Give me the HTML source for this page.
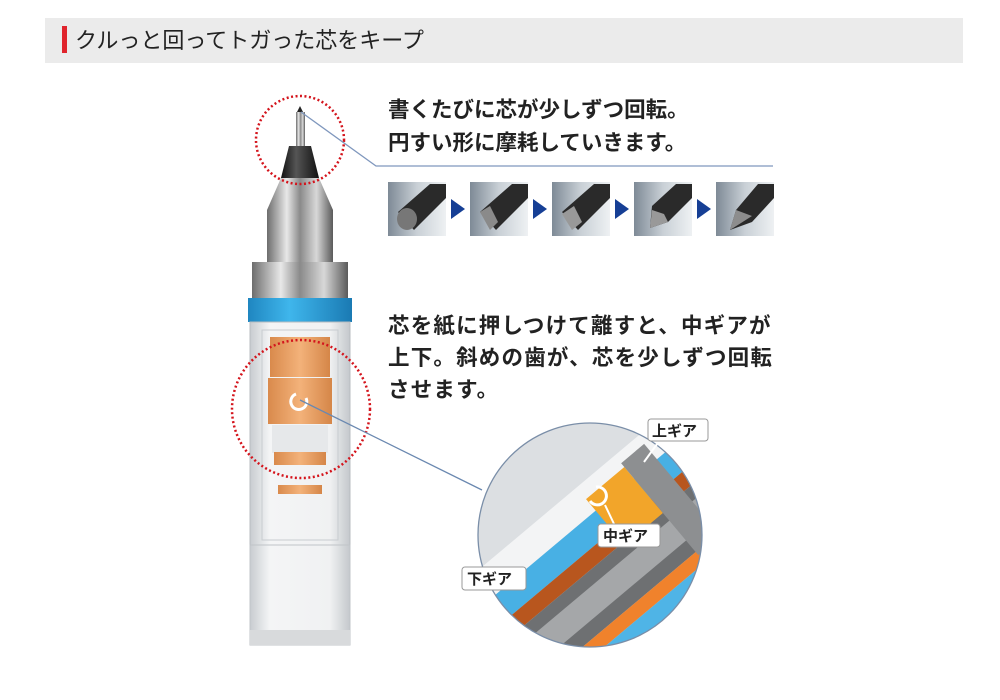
<!DOCTYPE html>
<html><head><meta charset="utf-8"><style>
html,body{margin:0;padding:0;background:#fff;width:1000px;height:700px;overflow:hidden}
svg{display:block;position:absolute;left:0;top:0}
text{font-family:"Liberation Sans","Noto Sans CJK JP",sans-serif}
</style></head><body>
<svg width="1000" height="700" viewBox="0 0 1000 700" xmlns="http://www.w3.org/2000/svg">
<defs>
<linearGradient id="metal" x1="0" x2="1">
<stop offset="0" stop-color="#6d6d6d"/><stop offset="0.3" stop-color="#e8e8e8"/><stop offset="0.5" stop-color="#8a8a8a"/><stop offset="0.75" stop-color="#d8d8d8"/><stop offset="1" stop-color="#5a5a5a"/></linearGradient>
<linearGradient id="blk" x1="0" x2="1"><stop offset="0" stop-color="#111"/><stop offset="0.4" stop-color="#555"/><stop offset="1" stop-color="#111"/></linearGradient>
<linearGradient id="blue" x1="0" x2="1"><stop offset="0" stop-color="#1f86c0"/><stop offset="0.4" stop-color="#3fb6ec"/><stop offset="1" stop-color="#1a7ab3"/></linearGradient>
<linearGradient id="clear" x1="0" x2="1"><stop offset="0" stop-color="#c8ccd0"/><stop offset="0.2" stop-color="#f4f5f6"/><stop offset="0.8" stop-color="#f0f1f2"/><stop offset="1" stop-color="#c4c8cc"/></linearGradient>
<linearGradient id="org" x1="0" x2="1"><stop offset="0" stop-color="#d98a4c"/><stop offset="0.5" stop-color="#f3b27a"/><stop offset="1" stop-color="#d58648"/></linearGradient>
<linearGradient id="box" x1="0" x2="1"><stop offset="0" stop-color="#7e8a96"/><stop offset="0.5" stop-color="#c9d0d6"/><stop offset="1" stop-color="#eef1f3"/></linearGradient>
<clipPath id="cc"><circle cx="590" cy="535" r="112"/></clipPath>
</defs>
<rect x="45" y="18" width="918" height="45" fill="#ebebeb"/>
<rect x="62" y="26" width="5" height="27" fill="#e0242c"/>
<text x="75" y="48" font-size="22" fill="#222">クルっと回ってトガった芯をキープ</text>

<rect x="296" y="112" width="9" height="34" fill="url(#metal)"/>
<path d="M297 112 L300 106 L303 112Z" fill="#222"/>
<path d="M289 146 L311 146 L319 178 L281 178Z" fill="url(#blk)"/>
<path d="M281 178 L319 178 L333 210 L333 262 L267 262 L267 210Z" fill="url(#metal)"/>
<rect x="252" y="262" width="96" height="36" fill="url(#metal)"/>
<rect x="248" y="298" width="104" height="24" fill="url(#blue)"/>
<rect x="250" y="322" width="100" height="230" fill="url(#clear)" stroke="#b8bcc0"/>
<rect x="262" y="330" width="76" height="210" fill="none" stroke="#c8ccd0"/>
<rect x="270" y="337" width="60" height="40" fill="url(#org)"/>
<rect x="268" y="378" width="64" height="46" fill="url(#org)"/>
<path d="M306 398 a8 8 0 1 1 -10 -4" fill="none" stroke="#fff" stroke-width="3"/>
<rect x="272" y="425" width="56" height="28" fill="#e6e8ea"/>
<rect x="274" y="452" width="52" height="13" fill="url(#org)"/>
<rect x="278" y="485" width="44" height="9" fill="url(#org)"/>
<rect x="250" y="545" width="100" height="100" fill="url(#clear)" stroke="#c0c4c8"/>
<rect x="250" y="630" width="100" height="15" fill="#d8dadc"/>

<circle cx="300" cy="140" r="44" fill="none" stroke="#d4141c" stroke-width="2.5" stroke-dasharray="2 2.5"/>
<circle cx="301" cy="409" r="69" fill="none" stroke="#d4141c" stroke-width="2.5" stroke-dasharray="2 2.5"/>

<polyline points="301,112 376,166 773,166" fill="none" stroke="#7f97bd" stroke-width="1.3"/>
<line x1="300" y1="400" x2="482" y2="490" stroke="#6a88b0" stroke-width="1.3"/>

<text font-size="21.5" font-weight="bold" fill="#222"><tspan x="388" y="117">書くたびに芯が少しずつ回転。</tspan><tspan x="388" y="150">円すい形に摩耗していきます。</tspan></text>
<text font-size="21.5" font-weight="bold" fill="#222" letter-spacing="1.2"><tspan x="388" y="333">芯を紙に押しつけて離すと、中ギアが</tspan><tspan x="388" y="365">上下。斜めの歯が、芯を少しずつ回転</tspan><tspan x="388" y="397">させます。</tspan></text>

<g>
<rect x="388" y="182" width="58" height="54" fill="url(#box)"/>
<rect x="470" y="182" width="58" height="54" fill="url(#box)"/>
<rect x="552" y="182" width="58" height="54" fill="url(#box)"/>
<rect x="634" y="182" width="58" height="54" fill="url(#box)"/>
<rect x="716" y="182" width="58" height="54" fill="url(#box)"/>
<path d="M398 212 L430 184 L446 184 L446 198 L414 230Z" fill="#2a2a2a"/><ellipse cx="407" cy="219" rx="10" ry="11" fill="#777"/>
<path d="M480 212 L512 184 L528 184 L528 198 L496 230Z" fill="#2a2a2a"/><path d="M480 212 L490 206 L498 222 L490 230Z" fill="#8a8a8a"/>
<path d="M562 212 L594 184 L610 184 L610 198 L578 230Z" fill="#2a2a2a"/><path d="M562 214 L574 206 L582 222 L572 230Z" fill="#999"/>
<path d="M652 206 L676 184 L692 184 L692 198 L668 222 L650 228Z" fill="#2a2a2a"/><path d="M650 228 L652 210 L664 214 L668 222Z" fill="#999"/>
<path d="M736 210 L758 184 L774 184 L774 198 L752 222 L730 230Z" fill="#2a2a2a"/><path d="M730 230 L736 210 L752 216Z" fill="#8d8d8d"/>
<path d="M451 199 L465 209 L451 219Z" fill="#163f95"/>
<path d="M533 199 L547 209 L533 219Z" fill="#163f95"/>
<path d="M615 199 L629 209 L615 219Z" fill="#163f95"/>
<path d="M697 199 L711 209 L697 219Z" fill="#163f95"/>
</g>

<g clip-path="url(#cc)">
<rect x="470" y="415" width="240" height="240" fill="#dcdfe2"/>
<g transform="rotate(-40 590 535)">
<rect x="380" y="490" width="420" height="30" fill="#f3f4f5"/>
<rect x="380" y="520" width="420" height="26" fill="#48b0e4"/>
<rect x="380" y="546" width="420" height="16" fill="#b8561e"/>
<rect x="380" y="562" width="420" height="54" fill="#6e7072"/>
<rect x="380" y="575" width="420" height="26" fill="#a5a7a9"/>
<rect x="380" y="616" width="420" height="14" fill="#f0822c"/>
<rect x="380" y="630" width="420" height="30" fill="#4fb4e6"/>
<rect x="380" y="660" width="420" height="40" fill="#dfe2e5"/>
<rect x="610" y="505" width="50" height="60" fill="#f2a52a"/>
<rect x="660" y="500" width="30" height="120" fill="#8d8f91"/>
</g>
<path d="M596 487 a9 9 0 1 1 -6 14" fill="none" stroke="#fff" stroke-width="3"/>
</g>
<circle cx="590" cy="535" r="112" fill="none" stroke="#7a8ea8" stroke-width="1.3"/>

<line x1="660" y1="440" x2="644" y2="462" stroke="#fff" stroke-width="2"/>
<line x1="615" y1="526" x2="605" y2="505" stroke="#fff" stroke-width="2"/>
<g font-size="15" font-weight="bold" fill="#222">
<rect x="648" y="419" width="60" height="22" rx="3" fill="#fff" stroke="#999"/><text x="652" y="436">上ギア</text>
<rect x="598" y="524" width="62" height="23" rx="3" fill="#fff" stroke="#999"/><text x="603" y="541">中ギア</text>
<rect x="462" y="567" width="64" height="23" rx="3" fill="#fff" stroke="#999"/><text x="467" y="584">下ギア</text>
</g>
</svg>
</body></html>
